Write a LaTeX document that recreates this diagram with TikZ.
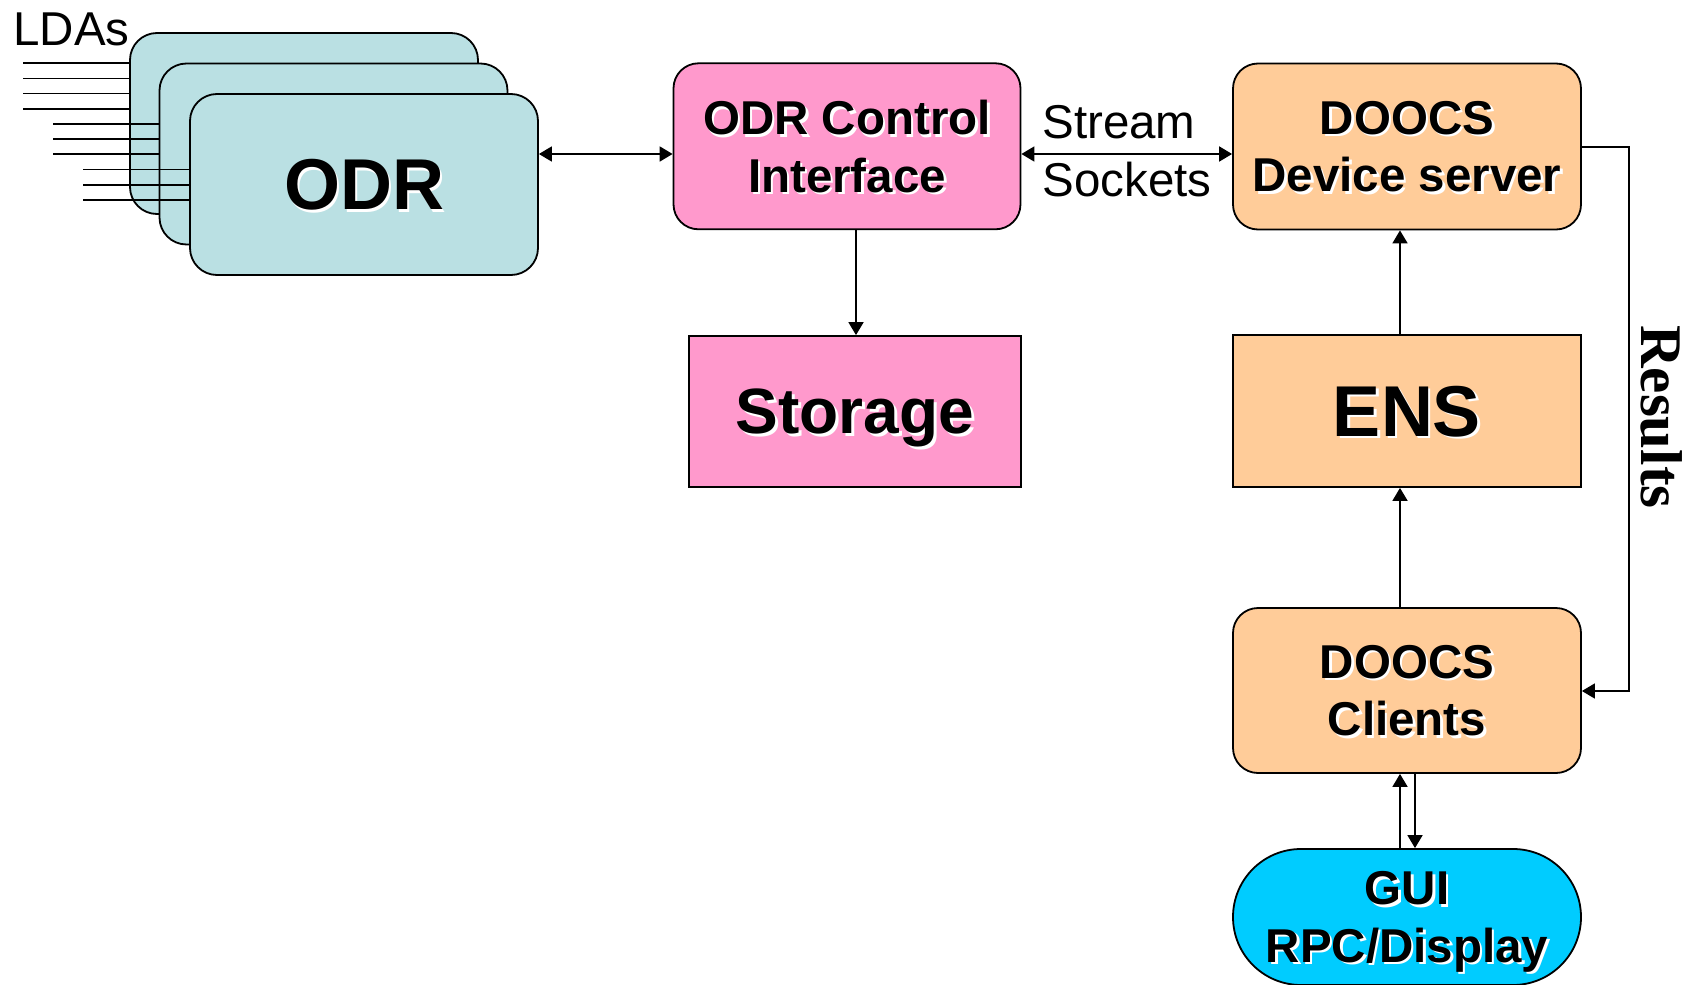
\documentclass[tikz,border=0pt]{standalone}
\usepackage{fontspec}
\setmainfont{Liberation Sans}
\newfontfamily\serifbold{Liberation Serif}
\usetikzlibrary{arrows.meta}
\definecolor{odrfill}{HTML}{BAE0E3}
\definecolor{pinkfill}{HTML}{FF99CC}
\definecolor{orangefill}{HTML}{FFCC99}
\definecolor{guifill}{HTML}{00CCFF}
\newcommand\shd[1]{\leavevmode\rlap{\hspace*{1.3pt}\raisebox{-1.3pt}{\color{white}#1}}#1}
\begin{document}
\begin{tikzpicture}[x=0.5pt,y=-0.5pt,
  box/.style={draw=black, line width=0.9pt, inner sep=0pt, text depth=0pt, align=center,
    font=\bfseries\fontsize{23.75pt}{28.75pt}\selectfont},
  rbox/.style={box, rounded corners=12.5pt},
  odrbox/.style={box, fill=odrfill, rounded corners=13.5pt, minimum width=174pt, minimum height=90.5pt},
  bigtext/.style={font=\bfseries\fontsize{36pt}{40pt}\selectfont},
  conn/.style={line width=0.9pt, -{Triangle[length=6.5pt,width=7.5pt]}},
  biconn/.style={line width=0.9pt, {Triangle[length=6.5pt,width=7.5pt]}-{Triangle[length=6.5pt,width=7.5pt]}},
  lda/.style={line width=0.9pt},
  plain/.style={inner sep=0pt, text depth=0pt, font=\fontsize{23.75pt}{29pt}\selectfont}
]
\useasboundingbox (0,0) rectangle (1688,985);

% ODR stack
\node[odrbox] (odrA) at (304,123.5) {};
\node[odrbox] (odrB) at (333.5,154) {};
\node[odrbox, bigtext] (odrC) at (364,184.5) {\shd{ODR}};

% LDA input lines
\foreach \y in {63.3,78.4,93.5,108.7} \draw[lda] (23,\y) -- (odrA.west |- {(0,\y)});
\foreach \y in {123.8,139,154.2} \draw[lda] (53,\y) -- (odrB.west |- {(0,\y)});
\foreach \y in {169.4,184.6,199.8} \draw[lda] (83,\y) -- (odrC.west |- {(0,\y)});
\node[plain, anchor=base west] (ldas) at (13,46) {LDAs};

% other boxes
\node[rbox, fill=pinkfill, minimum width=173.5pt, minimum height=83pt] (ctrl) at (847,146.3) {\shd{ODR Control}\\\shd{Interface}};
\node[box, fill=pinkfill, minimum width=166pt, minimum height=75.5pt, font=\bfseries\fontsize{32pt}{36pt}\selectfont] (stor) at (855,411.5) {\shd{Storage}};
\node[rbox, fill=orangefill, minimum width=174pt, minimum height=83pt] (dds) at (1407,146.5) {\shd{DOOCS}\\\shd{Device server}};
\node[box, fill=orangefill, minimum width=174pt, minimum height=76pt, bigtext] (ens) at (1407,411) {\shd{ENS}};
\node[rbox, fill=orangefill, minimum width=174pt, minimum height=82.5pt] (cli) at (1407,690.5) {\shd{DOOCS}\\\shd{Clients}};
\node[box, fill=guifill, rounded corners=34pt, minimum width=174pt, minimum height=68pt] (gui) at (1407,917) {\shd{GUI}\\\shd{RPC/Display}};

% labels
\node[plain, anchor=west, align=left] (stream) at (1042,151) {Stream\\Sockets};
\node[inner sep=0pt, rotate=-90, font=\serifbold\bfseries\fontsize{29.5pt}{32pt}\selectfont] (results) at (1662,417) {Results};

% coordinates
\coordinate (ya) at (0,154);
\coordinate (xs) at (856,0);
\coordinate (xe) at (1400,0);
\coordinate (xg) at (1415,0);
\coordinate (r1) at (1629,147);
\coordinate (r2) at (1629,691);

% connectors
\draw[biconn] (odrC.east |- ya) -- (ctrl.west |- ya);
\draw[biconn] (ctrl.east |- ya) -- (dds.west |- ya);
\draw[conn] (ctrl.south -| xs) -- (stor.north -| xs);
\draw[conn] (ens.north -| xe) -- (dds.south -| xe);
\draw[conn] (cli.north -| xe) -- (ens.south -| xe);
\draw[conn] (gui.north -| xe) -- (cli.south -| xe);
\draw[conn] (cli.south -| xg) -- (gui.north -| xg);
\draw[conn] (dds.east |- r1) -- (r1) -- (r2) -- (cli.east |- r2);
\end{tikzpicture}
\end{document}
